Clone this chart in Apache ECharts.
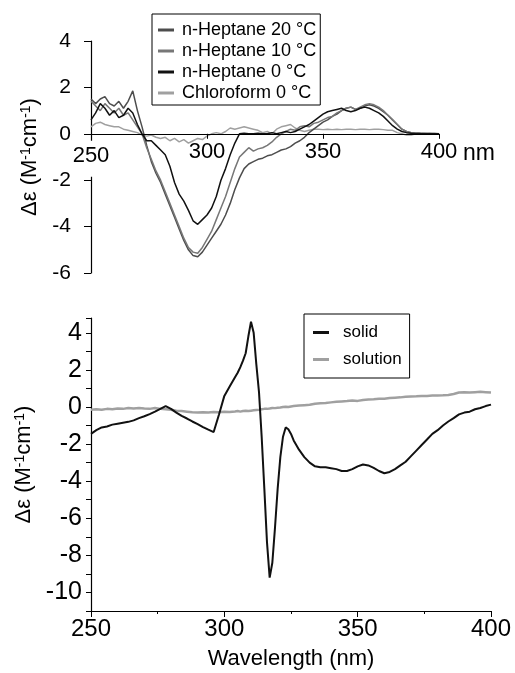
<!DOCTYPE html>
<html>
<head>
<meta charset="utf-8">
<script src="https://cdn.jsdelivr.net/npm/echarts@6/dist/echarts.min.js"></script>
<style>
  html, body { margin: 0; padding: 0; background: #fff; }
  #chart { width: 515px; height: 673px; }
</style>
</head>
<body>
<div id="chart"></div>
<script>
// top panel: CD in n-heptane / chloroform
const topNm = [250,252,254,256,258,260,262,264,266,268,270,272,274,276,278,280,282,284,286,288,290,292,294,296,298,300,
  302,304,306,308,310,312,314,316,318,320,322,324,326,328,330,332,334,336,338,340,342,344,346,348,350,
  352,354,356,358,360,362,364,366,368,370,372,374,376,378,380,382,384,386,388,390,392,394,396,398,400];

const hept20 = [1.5,1.3,1.5,1.6,1.3,1.2,1.4,1.1,1.4,1.85,1.0,0.3,-0.5,-1.2,-1.7,-2.1,-2.6,-3.1,-3.6,-4.1,-4.6,-5.0,-5.25,-5.3,-5.1,-4.8,
  -4.5,-4.2,-3.9,-3.5,-3.0,-2.4,-1.9,-1.5,-1.3,-1.2,-1.1,-1.05,-0.95,-0.9,-0.8,-0.7,-0.65,-0.55,-0.4,-0.3,-0.15,0.05,0.2,0.35,0.5,
  0.6,0.75,0.85,1.0,1.1,1.15,1.05,1.1,1.2,1.25,1.2,1.1,0.95,0.8,0.6,0.4,0.2,0.1,0.05,0.05,0.02,0.0,0.02,0.0,0.0];

const hept10 = [1.4,1.2,1.0,1.3,1.1,0.9,1.1,0.8,0.9,0.6,0.3,0.0,-0.6,-1.1,-1.6,-2.0,-2.5,-3.0,-3.5,-4.0,-4.5,-4.9,-5.1,-5.15,-4.9,-4.55,
  -4.2,-3.7,-3.2,-2.7,-2.1,-1.5,-1.0,-0.8,-0.6,-0.75,-0.65,-0.6,-0.5,-0.35,-0.15,0.0,0.1,0.2,0.15,0.3,0.35,0.3,0.45,0.5,0.6,
  0.7,0.75,0.9,1.0,1.1,1.15,1.05,1.15,1.25,1.3,1.25,1.15,1.0,0.8,0.6,0.4,0.2,0.1,0.05,0.05,0.03,0.02,0.0,0.02,0.0];

const hept0 = [0.6,0.9,1.3,1.1,0.8,1.0,0.7,0.8,1.1,0.9,0.4,0.0,-0.3,-0.3,-0.5,-0.7,-0.9,-1.4,-2.1,-2.6,-2.9,-3.3,-3.75,-3.9,-3.7,-3.5,
  -3.2,-2.7,-2.0,-1.5,-0.9,-0.4,0.0,0.02,0.0,0.0,0.02,0.0,0.0,0.05,0.0,0.05,0.1,0.05,0.1,0.2,0.3,0.4,0.55,0.7,0.85,
  0.95,1.0,1.05,1.1,1.0,0.95,1.0,1.1,1.15,1.1,1.0,0.9,0.75,0.55,0.35,0.2,0.1,0.05,0.02,0.0,0.0,0.0,0.0,0.0,0.0];

const chcl3 = [0.3,0.45,0.5,0.4,0.35,0.3,0.3,0.2,0.15,0.1,0.05,-0.05,-0.1,-0.05,-0.15,-0.2,-0.15,-0.3,-0.2,-0.35,-0.25,-0.4,-0.3,-0.2,-0.25,-0.1,
  0.0,0.05,0.0,0.1,0.25,0.2,0.25,0.3,0.25,0.2,0.15,0.05,0.1,0.0,0.2,0.3,0.35,0.4,0.25,0.15,0.1,0.15,0.2,0.2,0.18,
  0.2,0.18,0.2,0.18,0.2,0.2,0.18,0.2,0.2,0.18,0.2,0.2,0.18,0.15,0.15,0.05,0.0,-0.05,-0.05,0.0,0.0,0.02,0.0,0.0,0.0];

const topNames = ['n-Heptane 20 °C', 'n-Heptane 10 °C', 'n-Heptane 0 °C', 'Chloroform 0 °C'];
const topColors = ['#4d4d4d', '#777777', '#111111', '#a0a0a0'];

// bottom panel: solid vs solution
const botNm = [250,252,254,256,258,260,262,264,266,268,270,272,274,276,278,280,282,284,286,288,290,292,294,296,298,300,302,304,
  305,306,307,308,309,310,311,312,313,314,315,316,317,318,319,320,321,322,323,324,325,
  326,328,330,332,334,336,338,340,342,344,346,348,350,352,354,356,358,360,362,364,366,368,370,372,374,376,378,380,
  382,384,386,388,390,392,394,396,398,400];

const solid = [-1.45,-1.25,-1.1,-1.05,-0.95,-0.9,-0.85,-0.8,-0.72,-0.6,-0.5,-0.38,-0.25,-0.1,0.05,-0.1,-0.3,-0.48,-0.62,-0.78,-0.92,-1.08,-1.22,-1.35,-0.4,0.6,1.1,1.6,
  1.85,2.15,2.5,2.9,3.8,4.6,4.0,2.3,0.8,-1.6,-4.4,-7.3,-9.2,-8.4,-6.5,-4.4,-2.7,-1.6,-1.1,-1.2,-1.45,
  -1.8,-2.3,-2.7,-3.0,-3.2,-3.25,-3.25,-3.3,-3.35,-3.45,-3.45,-3.35,-3.2,-3.1,-3.15,-3.28,-3.45,-3.57,-3.5,-3.35,-3.15,-2.95,-2.65,-2.35,-2.05,-1.75,-1.45,-1.25,
  -1.0,-0.78,-0.6,-0.4,-0.3,-0.25,-0.12,-0.05,0.05,0.13];

const solution = [-0.15,-0.12,-0.15,-0.1,-0.12,-0.08,-0.1,-0.05,-0.08,-0.05,-0.08,-0.1,-0.05,-0.1,-0.12,-0.15,-0.2,-0.22,-0.25,-0.28,-0.3,-0.28,-0.3,-0.27,-0.28,-0.25,-0.27,-0.24,
  -0.22,-0.25,-0.22,-0.2,-0.22,-0.2,-0.18,-0.16,-0.15,-0.12,-0.1,-0.1,-0.08,-0.05,-0.06,-0.04,-0.03,0.0,0.02,0.0,0.03,
  0.05,0.08,0.1,0.12,0.18,0.2,0.22,0.25,0.28,0.3,0.32,0.35,0.33,0.38,0.4,0.42,0.45,0.45,0.48,0.5,0.52,0.55,0.57,0.58,0.6,0.6,0.62,0.62,
  0.63,0.65,0.7,0.78,0.8,0.78,0.8,0.82,0.8,0.78];

const font = 'Liberation Sans, Arial, sans-serif';
const black = '#000';

const pair = (xs, ys) => xs.map((x, i) => [x, ys[i]]);

const chart = echarts.init(document.getElementById('chart'));

// top grid geometry, the x axis is pulled up onto the zero line
const topGrid = { left: 91, right: 76, top: 41, height: 232 };
const topMin = -6, topMax = 4;
const zeroShift = topGrid.height * (0 - topMin) / (topMax - topMin);

const yName = 'Δε (M{sup|-1}cm{sup|-1})';
const yNameStyle = {
  fontFamily: font, fontSize: 22, color: black,
  rich: { sup: { fontFamily: font, fontSize: 14, color: black, verticalAlign: 'top' } }
};

const topSeries = [hept20, hept10, hept0, chcl3].map((vals, i) => ({
  name: topNames[i],
  type: 'line',
  xAxisIndex: 0,
  yAxisIndex: 0,
  data: pair(topNm, vals),
  symbol: 'none',
  color: topColors[i],
  lineStyle: { width: 1.5, color: topColors[i] },
  z: i === 3 ? 2 : 3
}));

const option = {
  animation: false,
  textStyle: { fontFamily: font },
  grid: [
    topGrid,
    { left: 91, right: 24, top: 318, height: 293 }
  ],
  legend: [
    {
      data: topNames,
      orient: 'vertical',
      left: 152,
      top: 14,
      padding: [7, 4, 3, 6],
      itemGap: 3,
      itemWidth: 16,
      itemHeight: 3,
      icon: 'rect',
      borderColor: black,
      borderWidth: 1,
      textStyle: { fontFamily: font, fontSize: 18, color: black, lineHeight: 18, padding: [0, 0, 0, 3] }
    },
    {
      data: ['solid', 'solution'],
      orient: 'vertical',
      left: 304,
      top: 314,
      padding: [10, 8, 10, 9],
      itemGap: 10,
      itemWidth: 16,
      itemHeight: 3,
      icon: 'rect',
      borderColor: black,
      borderWidth: 1,
      textStyle: { fontFamily: font, fontSize: 17, color: black, lineHeight: 17, padding: [0, 0, 0, 9] }
    }
  ],
  xAxis: [
    {
      gridIndex: 0,
      type: 'value',
      position: 'bottom',
      offset: -zeroShift,
      min: 250,
      max: 400,
      interval: 50,
      z: 4,
      axisLine: { onZero: false, lineStyle: { color: black, width: 1.2 } },
      axisTick: { show: true, inside: false, length: 5, lineStyle: { color: black } },
      splitLine: { show: false },
      axisLabel: {
        fontFamily: font, fontSize: 22, color: black, margin: 7,
        // the first label sits on a white patch that breaks the y axis line
        formatter: v => (v === 250 ? '{gap|250}' : String(v)),
        rich: {
          gap: {
            fontFamily: font, fontSize: 22, color: black,
            backgroundColor: '#fff', padding: [4, 2, 10, 2]
          }
        }
      },
      name: 'nm',
      nameLocation: 'end',
      nameGap: 24,
      nameTextStyle: { fontFamily: font, fontSize: 23, color: black, verticalAlign: 'top', padding: [8, 0, 0, 0] }
    },
    {
      gridIndex: 1,
      type: 'value',
      min: 250,
      max: 400,
      interval: 50,
      axisLine: { onZero: false, lineStyle: { color: black, width: 1.2 } },
      axisTick: { show: true, inside: false, length: 6, lineStyle: { color: black } },
      minorTick: { show: true, splitNumber: 2, length: 3, lineStyle: { color: black } },
      splitLine: { show: false },
      axisLabel: { fontFamily: font, fontSize: 24, color: black, margin: 6 },
      name: 'Wavelength (nm)',
      nameLocation: 'middle',
      nameGap: 37,
      nameTextStyle: { fontFamily: font, fontSize: 22, color: black }
    }
  ],
  yAxis: [
    {
      gridIndex: 0,
      type: 'value',
      min: topMin,
      max: topMax,
      interval: 2,
      axisLine: { show: true, onZero: false, lineStyle: { color: black, width: 1.2 } },
      axisTick: { show: true, inside: false, length: 7, lineStyle: { color: black } },
      splitLine: { show: false },
      axisLabel: { fontFamily: font, fontSize: 21, color: black, margin: 20 },
      name: yName,
      nameLocation: 'middle',
      nameGap: 47,
      nameTextStyle: yNameStyle
    },
    {
      gridIndex: 1,
      type: 'value',
      min: -11,
      max: 4.8,
      interval: 1,
      axisLine: { show: true, onZero: false, lineStyle: { color: black, width: 1.2 } },
      axisTick: { show: true, inside: false, length: 5, lineStyle: { color: black } },
      splitLine: { show: false },
      axisLabel: {
        fontFamily: font, fontSize: 25, color: black, margin: 9,
        formatter: v => (Math.abs(v % 2) < 1e-9 ? String(v) : '')
      },
      name: yName,
      nameLocation: 'middle',
      nameGap: 45,
      nameTextStyle: yNameStyle
    }
  ],
  series: [
    ...topSeries,
    {
      name: 'solution',
      type: 'line',
      xAxisIndex: 1,
      yAxisIndex: 1,
      data: pair(botNm, solution),
      symbol: 'none',
      color: '#a0a0a0',
      lineStyle: { width: 2.5, color: '#a0a0a0' }
    },
    {
      name: 'solid',
      type: 'line',
      xAxisIndex: 1,
      yAxisIndex: 1,
      data: pair(botNm, solid),
      symbol: 'none',
      color: '#111',
      lineStyle: { width: 2, color: '#111' }
    }
  ]
};

chart.setOption(option);
</script>
</body>
</html>
